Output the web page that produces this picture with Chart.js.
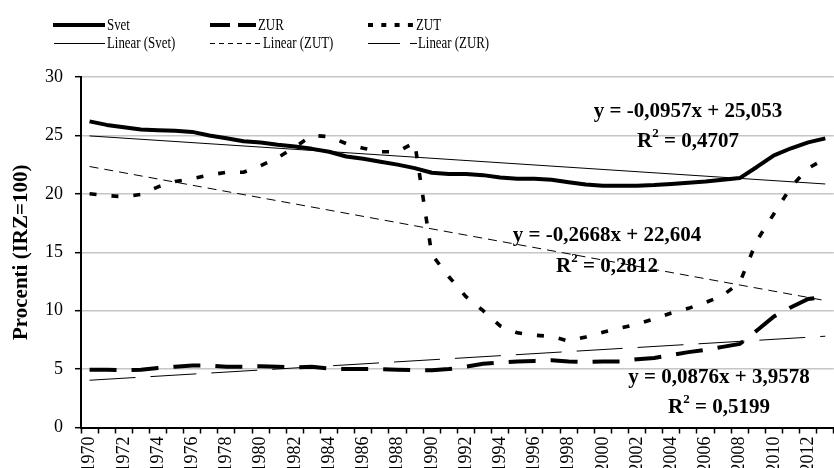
<!DOCTYPE html>
<html>
<head>
<meta charset="utf-8">
<title>Svet, ZUR, ZUT</title>
<style>
  html, body { margin: 0; padding: 0; background: #ffffff; overflow: hidden; }
  #wrap { position: relative; width: 834px; height: 468px; overflow: hidden; background: #ffffff; }
  #chart { position: absolute; left: 0; top: 0; }
</style>
<script src="https://cdn.jsdelivr.net/npm/chart.js@4.4.1/dist/chart.umd.min.js"></script>
</head>
<body>
<div id="wrap"><canvas id="chart" width="850" height="490"></canvas></div>
<script>
// Years on the category axis
const years = [
  '1970','1971','1972','1973','1974','1975','1976','1977','1978','1979',
  '1980','1981','1982','1983','1984','1985','1986','1987','1988','1989',
  '1990','1991','1992','1993','1994','1995','1996','1997','1998','1999',
  '2000','2001','2002','2003','2004','2005','2006','2007','2008','2009',
  '2010','2011','2012','2013'
];

// Shares in percent (IRZ = 100)
const svet = [
  26.2, 25.9, 25.7, 25.5, 25.45, 25.4, 25.3, 25.0, 24.75, 24.5,
  24.4, 24.2, 24.05, 23.85, 23.6, 23.2, 23.0, 22.75, 22.5, 22.2,
  21.8, 21.7, 21.7, 21.6, 21.4, 21.3, 21.3, 21.2, 21.0, 20.8,
  20.7, 20.7, 20.7, 20.75, 20.85, 20.95, 21.05, 21.2, 21.35, 22.3,
  23.3, 23.9, 24.4, 24.75
];
const zur = [
  4.95, 4.95, 4.9, 4.95, 5.1, 5.2, 5.3, 5.3, 5.2, 5.2,
  5.25, 5.2, 5.15, 5.2, 5.05, 5.0, 5.0, 5.0, 4.95, 4.9,
  4.9, 5.0, 5.2, 5.45, 5.55, 5.65, 5.7, 5.75, 5.65, 5.6,
  5.65, 5.65, 5.85, 5.95, 6.2, 6.45, 6.65, 6.9, 7.15, 8.3,
  9.5, 10.3, 11.0, 11.2
];
const zut = [
  20.0, 19.85, 19.75, 19.95, 20.6, 21.05, 21.3, 21.6, 21.85, 21.85,
  22.4, 23.1, 24.0, 25.0, 24.9, 24.3, 23.9, 23.6, 23.6, 24.4,
  14.8, 12.9, 11.2, 10.0, 8.7, 8.1, 7.9, 7.8, 7.4, 7.75,
  8.15, 8.5, 8.85, 9.3, 9.8, 10.2, 10.7, 11.3, 12.4, 16.0,
  18.3, 20.6, 22.2, 23.0
];

// Linear trends (x = 1 for the first year): Svet, ZUT, ZUR
const trendSlope = [-0.0957, -0.2668, 0.0876];
const trendIntercept = [25.053, 22.604, 3.9578];
const trendEquation = ['y = -0,0957x + 25,053', 'y = -0,2668x + 22,604', 'y = 0,0876x + 3,9578'];
const trendR2 = ['0,4707', '0,2812', '0,5199'];

const yTicks = [0, 5, 10, 15, 20, 25, 30];

const SERIF = "'Liberation Serif', 'Times New Roman', serif";

function trendPoints(k) {
  const n = years.length;
  return [
    { x: years[0], y: trendSlope[k] * 1 + trendIntercept[k] },
    { x: years[n - 1], y: trendSlope[k] * n + trendIntercept[k] }
  ];
}

// Legend layout: two rows of three entries
const legendItems = [
  { label: 'Svet',          x0: 53,  x1: 105, tx: 107, row: 0, width: 4,   dash: [] },
  { label: 'ZUR',           x0: 210, x1: 256, tx: 258, row: 0, width: 4,   dash: [20, 8] },
  { label: 'ZUT',           x0: 368, x1: 415, tx: 416, row: 0, width: 4,   dash: [5, 8.3] },
  { label: 'Linear (Svet)', x0: 54,  x1: 105, tx: 107, row: 1, width: 1,   dash: [] },
  { label: 'Linear (ZUT)',  x0: 210, x1: 262, tx: 263, row: 1, width: 1,   dash: [5, 4] },
  { label: 'Linear (ZUR)',  x0: 368, x1: 417, tx: 418, row: 1, width: 1,   dash: [32, 10] }
];
const legendRowY = [25, 43.5];

// Equation labels: centre positions
const eqPlacement = [
  { cx: 688, eqY: 112, r2Y: 142 },
  { cx: 607, eqY: 236, r2Y: 267 },
  { cx: 719, eqY: 378, r2Y: 408 }
];

const overlay = {
  id: 'overlay',
  afterDraw(chart) {
    const ctx = chart.ctx;
    ctx.save();
    ctx.fillStyle = '#000';
    ctx.strokeStyle = '#000';

    // legend
    legendItems.forEach(it => {
      const y = legendRowY[it.row];
      ctx.save();
      ctx.lineWidth = it.width;
      ctx.lineCap = 'butt';
      ctx.setLineDash(it.dash);
      ctx.beginPath();
      ctx.moveTo(it.x0, y);
      ctx.lineTo(it.x1, y);
      ctx.stroke();
      ctx.restore();
      ctx.save();
      ctx.font = '16.5px ' + SERIF;
      ctx.textBaseline = 'middle';
      ctx.textAlign = 'left';
      ctx.translate(it.tx, y + 0.5);
      ctx.scale(0.78, 1);
      ctx.fillText(it.label, 0, 0);
      ctx.restore();
    });

    // trend equations
    const big = 'bold 21px ' + SERIF;
    const sup = 'bold 13px ' + SERIF;
    eqPlacement.forEach((p, k) => {
      ctx.textBaseline = 'middle';
      ctx.textAlign = 'center';
      ctx.font = big;
      ctx.fillText(trendEquation[k], p.cx, p.eqY);

      const rest = ' = ' + trendR2[k];
      ctx.font = big;
      const wR = ctx.measureText('R').width;
      const wRest = ctx.measureText(rest).width;
      ctx.font = sup;
      const w2 = ctx.measureText('2').width;
      let x = p.cx - (wR + w2 + wRest) / 2;
      ctx.textAlign = 'left';
      ctx.font = big;
      ctx.fillText('R', x, p.r2Y);
      x += wR;
      ctx.font = sup;
      ctx.fillText('2', x, p.r2Y - 8);
      x += w2;
      ctx.font = big;
      ctx.fillText(rest, x, p.r2Y);
    });
    ctx.restore();
  }
};

new Chart(document.getElementById('chart'), {
  type: 'line',
  data: {
    labels: years,
    datasets: [
      { label: 'Svet', data: svet, borderColor: '#000', borderWidth: 4, borderJoinStyle: 'round', pointRadius: 0, tension: 0 },
      { label: 'ZUR', data: zur, borderColor: '#000', borderWidth: 4, borderDash: [27, 15], pointRadius: 0, tension: 0 },
      { label: 'ZUT', data: zut, borderColor: '#000', borderWidth: 3.6, borderDash: [7, 15], pointRadius: 0, tension: 0 },
      { label: 'Linear (Svet)', data: trendPoints(0), borderColor: '#000', borderWidth: 1, pointRadius: 0 },
      { label: 'Linear (ZUT)', data: trendPoints(1), borderColor: '#000', borderWidth: 1, borderDash: [9, 6], pointRadius: 0 },
      { label: 'Linear (ZUR)', data: trendPoints(2), borderColor: '#000', borderWidth: 1, borderDash: [46, 15], pointRadius: 0 }
    ]
  },
  options: {
    responsive: false,
    animation: false,
    layout: { padding: { top: 77, right: 8, bottom: 0, left: 0 } },
    plugins: { legend: { display: false }, tooltip: { enabled: false } },
    scales: {
      x: {
        type: 'category',
        offset: true,
        grid: { offset: true, drawOnChartArea: false, drawTicks: true, tickLength: 6, tickColor: '#000', tickWidth: 1.5 },
        border: { display: true, color: '#000', width: 2 },
        ticks: {
          autoSkip: false,
          minRotation: 90,
          maxRotation: 90,
          padding: 3,
          color: '#000',
          font: { family: SERIF, size: 18 },
          callback: function (value, index) {
            const y = years[index];
            return (Number(y) % 2 === 0) ? y : '';
          }
        },
        afterFit: function (scale) { scale.height = 62.5; }
      },
      y: {
        min: 0,
        max: 30,
        afterBuildTicks: function (scale) { scale.ticks = yTicks.map(v => ({ value: v })); },
        grid: {
          color: ctx => (ctx.tick && ctx.tick.value === 0) ? 'rgba(0,0,0,0)' : '#c6c6c6',
          lineWidth: 1.4,
          drawTicks: true,
          tickLength: 6,
          tickColor: '#000',
          tickWidth: 1.5
        },
        border: { display: true, color: '#000', width: 2 },
        ticks: { padding: 12, color: '#000', font: { family: SERIF, size: 18 } },
        title: {
          display: true,
          text: 'Procenti (IRZ=100)',
          color: '#000',
          font: { family: SERIF, size: 21, weight: 'bold' },
          padding: { top: 9, bottom: 0 }
        },
        afterFit: function (scale) { scale.width = 81; }
      }
    }
  },
  plugins: [overlay]
});
</script>
</body>
</html>
